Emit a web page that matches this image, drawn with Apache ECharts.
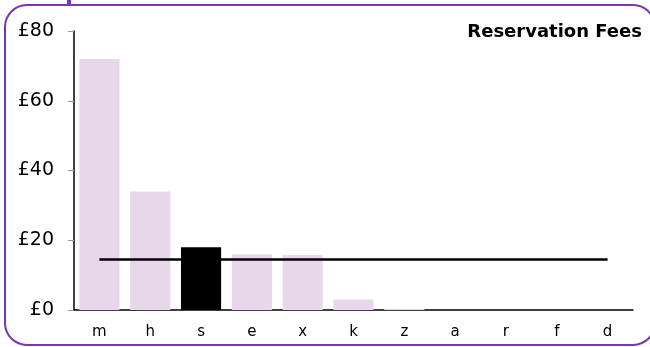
<!DOCTYPE html>
<html><head><meta charset="utf-8">
<script src="https://cdn.jsdelivr.net/npm/echarts@6/dist/echarts.min.js"></script>
<style>html,body{margin:0;padding:0;background:#fff}#c{width:650px;height:347px}</style>
</head><body><div id="c"></div>
<script>
const categories = ['m','h','s','e','x','k','z','a','r','f','d'];
const fees = [72, 34, 18, 16, 15.8, 3, 0.3, 0, 0, 0, 0];
const highlightIndex = 2;
const average = [14.5,14.5,14.5,14.5,14.5,14.5,14.5,14.5,14.5,14.5,14.5];
const yTicks = [0, 20, 40, 60, 80];
const titleText = 'Reservation Fees';

const chart = echarts.init(document.getElementById('c'));
chart.setOption({
  animation: false,
  textStyle: {fontFamily: 'DejaVu Sans'},
  title: {text: titleText, right: 3, top: 18, textStyle: {fontSize: 18, fontWeight: 'bold', color: '#000', fontFamily: 'DejaVu Sans'}},
  grid: {left: 74, right: 17, top: 31, bottom: 37},
  graphic: [
    {type: 'rect', shape: {x: 5, y: 5, width: 650, height: 340, r: 22}, style: {fill: 'none', stroke: '#7a35b0', lineWidth: 2}, z: 100},
    {type: 'rect', shape: {x: 67, y: 0, width: 4, height: 5}, style: {fill: '#7a35b0'}, z: 100}
  ],
  xAxis: {
    type: 'category', data: categories,
    axisLine: {lineStyle: {color: '#000', width: 1.5}},
    axisTick: {show: false},
    axisLabel: {color: '#000', fontSize: 15, margin: 15}
  },
  yAxis: {
    type: 'value', min: yTicks[0], max: yTicks[yTicks.length-1], interval: 20,
    splitLine: {show: false},
    axisLine: {show: true, lineStyle: {color: '#000', width: 1.5}},
    axisTick: {show: true, length: 6, lineStyle: {color: '#999'}},
    axisLabel: {color: '#000', fontSize: 19, margin: 20, formatter: v => '£' + v}
  },
  series: [
    {type: 'bar', barCategoryGap: '21%',
     data: fees.map((v, i) => ({value: v, itemStyle: {color: i === highlightIndex ? '#000' : '#e8d7ea'}}))},
    {type: 'line', data: average, symbol: 'none', lineStyle: {color: '#000', width: 2.5}, z: 5}
  ]
});
</script></body></html>
